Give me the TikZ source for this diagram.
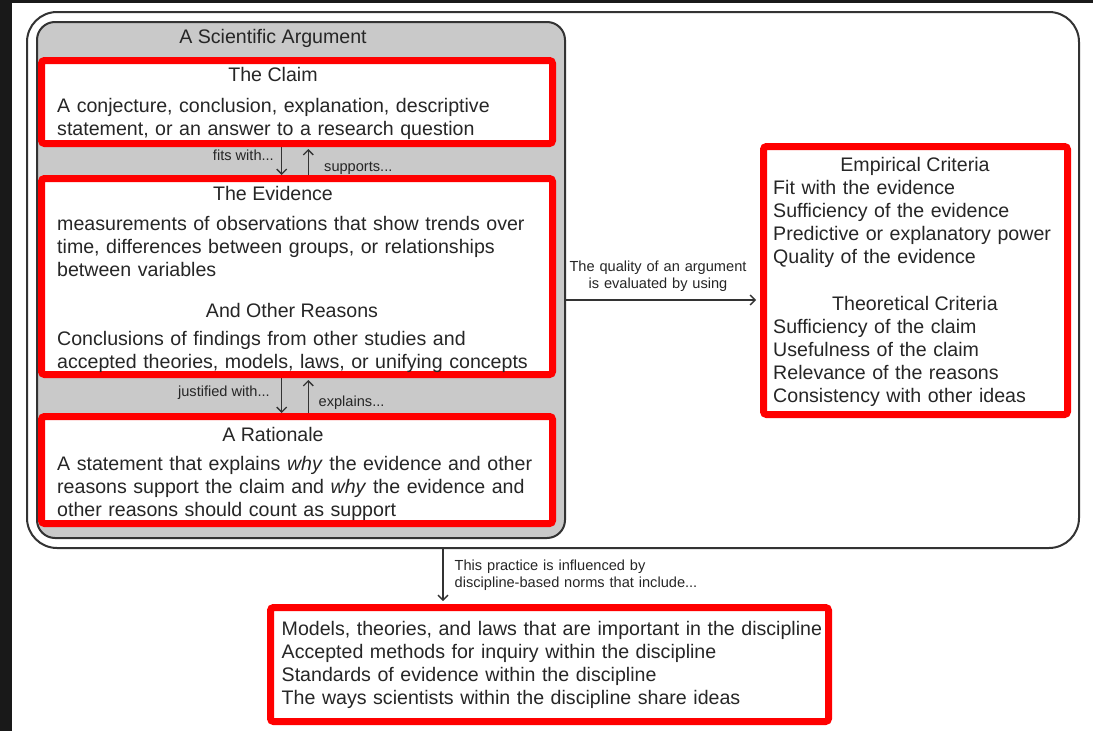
\documentclass[tikz,border=0pt]{standalone}
\usepackage{fontspec}
\setmainfont{Liberation Sans}
\usepackage{xcolor}
\usetikzlibrary{arrows.meta}
\newcommand\argFill{black!21}
\newcommand\edgeColor{black!80}
\newcommand\txtColor{black!85}

\begin{document}
\begin{tikzpicture}[x=1pt, y=-1pt,
    redbox/.style={draw=red, line width=7pt, fill=white, rounded corners=3pt, inner sep=0pt},
    body/.style={anchor=base west, inner sep=0pt, align=left, text width=#1, font=\fontsize{19.6}{23}\selectfont, text=\txtColor},
    body/.default=495pt,
    head/.style={anchor=base, inner sep=0pt, font=\fontsize{19.6}{23}\selectfont, text=\txtColor},
    small/.style={inner sep=0pt, font=\fontsize{14.6}{17.3}\selectfont, text=\txtColor},
    link/.style={draw=\edgeColor, line width=1.3pt, -{Straight Barb[length=5pt, width=10pt]}}]
    \fill[black!90] (0,0) rectangle (1093,731);
    \fill[white] (12,3) rectangle (1093,731);
    \useasboundingbox (0,0) rectangle (1093,731);

    \node[draw=\edgeColor, line width=2pt, rounded corners=30pt, minimum width=1052pt, minimum height=536pt, inner sep=0pt] (frame) at (553,280) {};
    \node[draw=\edgeColor, fill=\argFill, line width=2pt, rounded corners=18pt, minimum width=528pt, minimum height=516pt, inner sep=0pt] (argument) at (301,280) {};
    \node[head] (argtitle) at (273,43.5) {A Scientific Argument};

    \node[redbox, minimum width=511pt, minimum height=83pt] (claim) at (297,102) {};
    \node[redbox, minimum width=511pt, minimum height=196pt] (evidence) at (297,276.5) {};
    \node[redbox, minimum width=511pt, minimum height=107pt] (rationale) at (297,470) {};
    \node[redbox, minimum width=304pt, minimum height=268pt] (criteria) at (915.5,280.5) {};
    \node[redbox, minimum width=558pt, minimum height=114pt] (norms) at (549.5,664.5) {};

    \node[head] (claimhd) at (273,81.5) {The Claim};
    \node[body] (claimtx) at (57,112.5) {A conjecture, conclusion, explanation, descriptive\\statement, or an answer to a research question};

    \node[head] (evidhd) at (273,200.5) {The Evidence};
    \node[body] (evidtx) at (57,230) {measurements of observations that show trends over\\time, differences between groups, or relationships\\between variables};
    \node[head] (reasonhd) at (292,317.5) {And Other Reasons};
    \node[body] (reasontx) at (57,345) {Conclusions of findings from other studies and\\accepted theories, models, laws, or unifying concepts};

    \node[head] (ratiohd) at (273,441.5) {A Rationale};
    \node[body] (ratiotx) at (57,470.5) {A statement that explains \textit{why} the evidence and other\\reasons support the claim and \textit{why} the evidence and\\other reasons should count as support};

    \node[head] (empirhd) at (915,171.5) {Empirical Criteria};
    \node[body=290pt] (empirtx) at (773,194.5) {Fit with the evidence\\Sufficiency of the evidence\\Predictive or explanatory power\\Quality of the evidence};
    \node[head] (theorhd) at (915,310) {Theoretical Criteria};
    \node[body=290pt] (theortx) at (773,333.5) {Sufficiency of the claim\\Usefulness of the claim\\Relevance of the reasons\\Consistency with other ideas};

    \node[body=560pt] (normtx) at (281.5,635) {Models, theories, and laws that are important in the discipline\\Accepted methods for inquiry within the discipline\\Standards of evidence within the discipline\\The ways scientists within the discipline share ideas};

    \draw[link] ([xshift=-15.3pt]claim.south) -- ([xshift=-15.3pt]evidence.north);
    \draw[link, shorten >=2pt] ([xshift=11.3pt]evidence.north) -- ([xshift=11.3pt]claim.south);
    \node[small, anchor=base east] (fitslbl) at (274,160) {fits with...};
    \node[small, anchor=base west] (supplbl) at (324,171.5) {supports...};

    \draw[link] ([xshift=-15.3pt]evidence.south) -- ([xshift=-15.3pt]rationale.north);
    \draw[link, shorten >=2pt] ([xshift=11.3pt]rationale.north) -- ([xshift=11.3pt]evidence.south);
    \node[small, anchor=base east] (justlbl) at (270,396.5) {justified with...};
    \node[small, anchor=base west] (explbl) at (318.5,406.5) {explains...};

    \draw[link, shorten >=4pt] ([yshift=-20pt]argument.east) -- ([yshift=-20pt]argument.east -| criteria.west);
    \node[small, anchor=base, align=center, text width=200pt] (qualitylbl) at (658,271) {The quality of an argument\\is evaluated by using};

    \draw[link, shorten >=3pt] ([xshift=-110pt]frame.south) -- ([xshift=-110pt]frame.south |- norms.north);
    \node[small, anchor=base west, align=left, text width=250pt] (practicelbl) at (454.5,570) {This practice is influenced by\\discipline-based norms that include...};
\end{tikzpicture}
\end{document}
